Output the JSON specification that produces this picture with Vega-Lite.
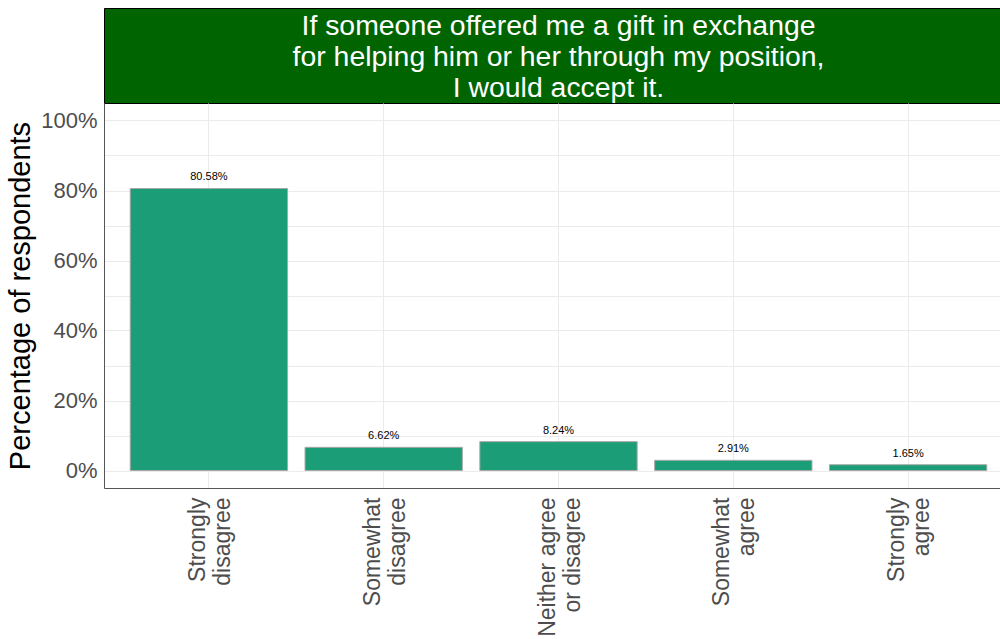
{
  "$schema": "https://vega.github.io/schema/vega-lite/v6.json",
  "padding": {"left": 6, "top": 7, "right": 0, "bottom": 0},
  "background": "white",
  "config": {
    "font": "Liberation Sans",
    "view": {"stroke": null}
  },
  "spacing": 0,
  "bounds": "flush",
  "vconcat": [
    {
      "width": 909,
      "height": 95,
      "view": {"fill": "#006400", "stroke": "black", "strokeWidth": 1},
      "data": {"values": [{"title": "If someone offered me a gift in exchange\nfor helping him or her through my position,\nI would accept it."}]},
      "mark": {"type": "text", "color": "white", "fontSize": 28.4, "lineBreak": "\n", "lineHeight": 31, "align": "center", "baseline": "middle", "dy": -30},
      "encoding": {"text": {"field": "title", "type": "nominal"}}
    },
    {
      "width": 909,
      "height": 385,
      "data": {"values": [
        {"response": "Strongly|disagree", "pct": 80.58, "label": "80.58%"},
        {"response": "Somewhat|disagree", "pct": 6.62, "label": "6.62%"},
        {"response": "Neither agree|or disagree", "pct": 8.24, "label": "8.24%"},
        {"response": "Somewhat|agree", "pct": 2.91, "label": "2.91%"},
        {"response": "Strongly|agree", "pct": 1.65, "label": "1.65%"}
      ]},
      "encoding": {
        "x": {
          "field": "response", "type": "nominal", "sort": null,
          "scale": {"paddingInner": 0.1, "paddingOuter": 0.15},
          "axis": {
            "title": null, "labelAngle": 270, "labelAlign": "right", "labelBaseline": "middle",
            "labelExpr": "split(datum.label, '|')", "labelLineHeight": 25, "labelOffset": -11,
            "labelFontSize": 23, "labelColor": "#4d4d4d", "labelPadding": 9,
            "ticks": false, "domainColor": "#555555", "domainWidth": 1,
            "grid": true, "gridColor": "#ebebeb", "gridWidth": 1, "labelLimit": 300
          }
        },
        "y": {
          "field": "pct", "type": "quantitative",
          "scale": {"domain": [-5, 105], "nice": false, "zero": false},
          "axis": {
            "title": "Percentage of respondents", "titleFontSize": 29, "titleFontWeight": "normal", "titleColor": "black", "titlePadding": 5,
            "values": [0, 10, 20, 30, 40, 50, 60, 70, 80, 90, 100],
            "labelExpr": "datum.value % 20 == 0 ? datum.value + '%' : ''",
            "labelFontSize": 22, "labelColor": "#4d4d4d", "labelPadding": 7,
            "ticks": false, "domainColor": "#555555", "domainWidth": 1,
            "grid": true, "gridColor": "#ebebeb", "gridWidth": 1
          }
        }
      },
      "layer": [
        {"mark": {"type": "bar", "fill": "#1b9e77", "stroke": "#a8a8a8", "strokeWidth": 1}},
        {"mark": {"type": "text", "fontSize": 11, "color": "black", "baseline": "alphabetic", "dy": -8}, "encoding": {"text": {"field": "label", "type": "nominal"}}}
      ]
    }
  ]
}
